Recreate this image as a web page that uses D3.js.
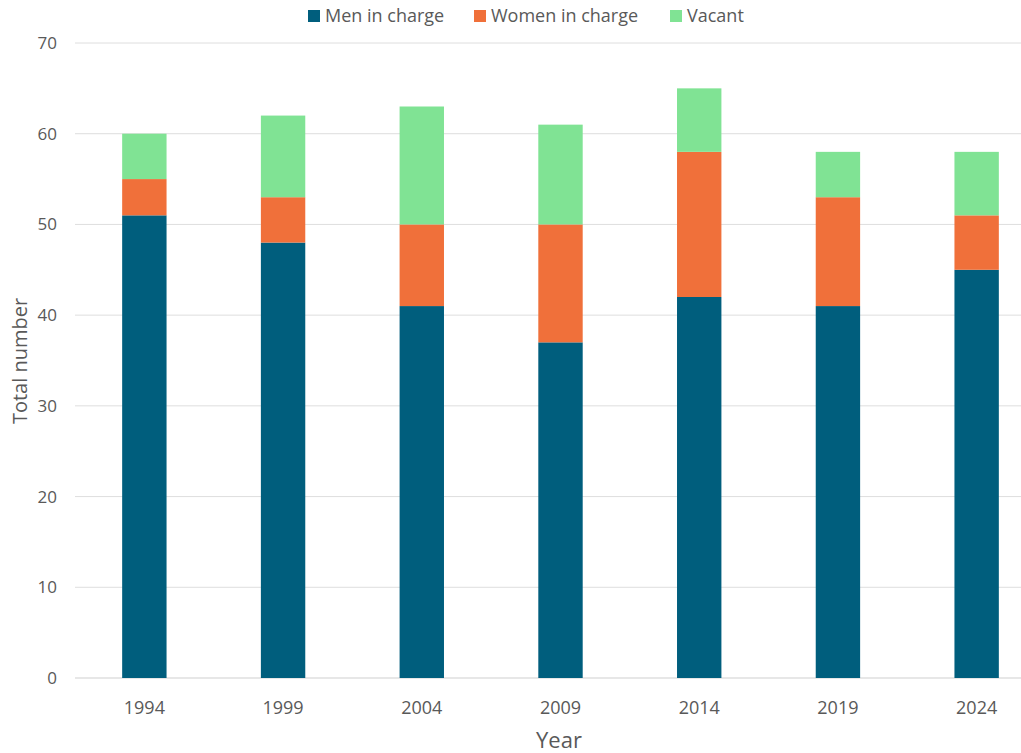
<!DOCTYPE html>
<html>
<head>
<meta charset="utf-8">
<script src="https://cdn.jsdelivr.net/npm/d3@7"></script>
<style>
  body { margin: 0; background: #fff; }
  svg { font-family: "Open Sans", "Liberation Sans", sans-serif; }
</style>
</head>
<body>
<svg id="chart" width="1021" height="753"></svg>
<script>
const years = ["1994", "1999", "2004", "2009", "2014", "2019", "2024"];
const men = [51, 48, 41, 37, 42, 41, 45];
const women = [4, 5, 9, 13, 16, 12, 6];
const vacant = [5, 9, 13, 11, 7, 5, 7];
const seriesNames = ["Men in charge", "Women in charge", "Vacant"];
const colors = ["#005E7D", "#F0703A", "#80E394"];
const yTicks = [0, 10, 20, 30, 40, 50, 60, 70];

const svg = d3.select("#chart");
const width = 1021;

const rows = years.map((y, i) => ({ year: y, "Men in charge": men[i], "Women in charge": women[i], "Vacant": vacant[i] }));
const stacked = d3.stack().keys(seriesNames)(rows);

const x = d3.scaleBand().domain(years).range([75, 1046]).paddingInner(0.68).paddingOuter(0.34);
const y = d3.scaleLinear().domain([0, 70]).range([678, 43]);

// gridlines
svg.append("g")
  .selectAll("line")
  .data(yTicks)
  .enter().append("line")
    .attr("x1", 75).attr("x2", width)
    .attr("y1", d => y(d)).attr("y2", d => y(d))
    .attr("stroke", d => d === 0 ? "#cfcfcf" : "#dedede")
    .attr("stroke-width", 1);

// y tick labels
svg.append("g")
  .selectAll("text")
  .data(yTicks)
  .enter().append("text")
    .attr("x", 57)
    .attr("y", d => y(d))
    .attr("dy", "0.35em")
    .attr("text-anchor", "end")
    .attr("fill", "#595959")
    .style("font-size", "17px")
    .text(d => d);

// bars
svg.append("g")
  .selectAll("g")
  .data(stacked)
  .enter().append("g")
    .attr("fill", (d, i) => colors[i])
  .selectAll("rect")
  .data(d => d)
  .enter().append("rect")
    .attr("x", d => x(d.data.year))
    .attr("width", x.bandwidth())
    .attr("y", d => y(d[1]))
    .attr("height", d => y(d[0]) - y(d[1]));

// x tick labels
svg.append("g")
  .selectAll("text")
  .data(years)
  .enter().append("text")
    .attr("x", d => x(d) + x.bandwidth() / 2)
    .attr("y", 708)
    .attr("dy", "0.35em")
    .attr("text-anchor", "middle")
    .attr("fill", "#595959")
    .style("font-size", "18px")
    .text(d => d);

// axis titles
svg.append("text")
  .attr("x", 559).attr("y", 740)
  .attr("dy", "0.35em")
  .attr("text-anchor", "middle")
  .attr("fill", "#595959")
  .style("font-size", "22px")
  .text("Year");

svg.append("text")
  .attr("transform", "translate(20,361) rotate(-90)")
  .attr("dy", "0.35em")
  .attr("text-anchor", "middle")
  .attr("fill", "#595959")
  .style("font-size", "20px")
  .text("Total number");

// legend
const legendX = [308, 474, 670];
const legend = svg.append("g")
  .selectAll("g")
  .data(seriesNames)
  .enter().append("g")
    .attr("transform", (d, i) => "translate(" + legendX[i] + ",16)");
legend.append("rect")
  .attr("x", 0).attr("y", -6)
  .attr("width", 12).attr("height", 12)
  .attr("fill", (d, i) => colors[i]);
legend.append("text")
  .attr("x", 17)
  .attr("dy", "0.35em")
  .attr("fill", "#595959")
  .style("font-size", "18px")
  .text(d => d);
</script>
</body>
</html>
